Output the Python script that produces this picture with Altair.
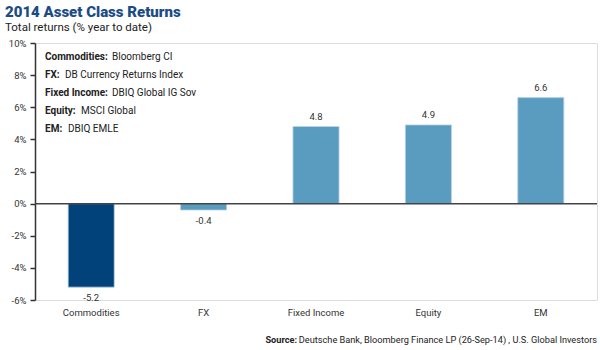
import altair as alt
import pandas as pd

categories = ["Commodities", "FX", "Fixed Income", "Equity", "EM"]
returns = [-5.2, -0.4, 4.8, 4.9, 6.6]
bar_colors = ["#02427A", "#5A9CC0", "#5A9CC0", "#5A9CC0", "#5A9CC0"]
y_ticks = [-6, -4, -2, 0, 2, 4, 6, 8, 10]

note_labels = ["Commodities:", "FX:", "Fixed Income:", "Equity:", "EM:"]
note_values = ["Bloomberg CI", "DB Currency Returns Index", "DBIQ Global IG Sov", "MSCI Global", "DBIQ EMLE"]
note_label_widths = [64, 17, 64, 33, 20]

df = pd.DataFrame({
    "cat": categories,
    "ret": returns,
    "color": bar_colors,
    "label": [f"{v:.1f}" for v in returns],
    "pos": [v >= 0 for v in returns],
})

FONT = "Roboto"
W, H = 562, 257

yscale = alt.Scale(domain=[-6, 10], nice=False)
xaxis = alt.Axis(domain=False, ticks=False, labelAngle=0, labelPadding=7,
                 labelFontSize=9.5, labelColor="#333333", labelFont=FONT)
yaxis = alt.Axis(values=y_ticks, labelExpr="datum.value + '%'", grid=False,
                 labelOverlap=False, labelBound=False, labelFlush=False,
                 domainColor="#333333", domainWidth=1.5, tickColor="#333333",
                 tickSize=5, tickWidth=1.5, labelFontSize=9.5, labelColor="#333333",
                 labelFont=FONT, labelPadding=4)
x = alt.X("cat:N", sort=categories, title=None,
          scale=alt.Scale(paddingInner=0.59, paddingOuter=0.295), axis=xaxis)
y = alt.Y("ret:Q", title=None, scale=yscale, axis=yaxis)

base = alt.Chart(df)
bars = base.mark_bar(stroke="#b9d3e3", strokeWidth=0.8).encode(
    x=x, y=y, y2=alt.datum(0), color=alt.Color("color:N", scale=None))

pos_lbl = base.transform_filter("datum.pos").mark_text(
    dy=-10, fontSize=9.5, color="#333333", font=FONT).encode(
    x=x, y=y, text="label:N")
neg_lbl = base.transform_filter("!datum.pos").mark_text(
    dy=11, fontSize=9.5, color="#333333", font=FONT).encode(
    x=x, y=y, text="label:N")

zero = alt.Chart(pd.DataFrame({"ret": [0]})).mark_rule(color="#444444", strokeWidth=1.5).encode(
    y=y, x=alt.value(0), x2=alt.value(W))

one = pd.DataFrame({"a": [0]})
note_layers = []
for i, (lab, val, w) in enumerate(zip(note_labels, note_values, note_label_widths)):
    ypx = 14 + i * 18
    note_layers.append(alt.Chart(one).mark_text(
        align="left", baseline="middle", fontSize=10, fontWeight="bold", font=FONT,
        color="#222222", text=lab).encode(x=alt.value(10), y=alt.value(ypx)))
    note_layers.append(alt.Chart(one).mark_text(
        align="left", baseline="middle", fontSize=10, font=FONT,
        color="#222222", text=val).encode(x=alt.value(10 + w + 3), y=alt.value(ypx)))

title = alt.Chart(one).mark_text(align="left", baseline="middle", fontSize=15, fontWeight=900,
                                 font=FONT, color="#1B4C86", text="2014 Asset Class Returns").encode(
    x=alt.value(-30), y=alt.value(-31))
subtitle = alt.Chart(one).mark_text(align="left", baseline="middle", fontSize=11.5,
                                    font=FONT, color="#222222", text="Total returns (% year to date)").encode(
    x=alt.value(-30), y=alt.value(-15))
src_b = alt.Chart(one).mark_text(align="right", baseline="middle", fontSize=9.2, fontWeight="bold",
                                 font=FONT, color="#222222", text="Source:").encode(
    x=alt.value(262), y=alt.value(H + 40))
src_r = alt.Chart(one).mark_text(align="right", baseline="middle", fontSize=9.2,
                                 font=FONT, color="#222222",
                                 text="Deutsche Bank, Bloomberg Finance LP (26-Sep-14) , U.S. Global Investors").encode(
    x=alt.value(W), y=alt.value(H + 40))

chart = alt.layer(bars, zero, pos_lbl, neg_lbl, *note_layers, title, subtitle, src_b, src_r).properties(
    width=W, height=H,
    autosize=alt.AutoSizeParams(type="none"),
    padding={"left": 35, "top": 43, "right": 3, "bottom": 50},
).configure_view(stroke=None).configure(background="white")

chart.save("out.html", embed_options={"renderer": "svg", "actions": False})
